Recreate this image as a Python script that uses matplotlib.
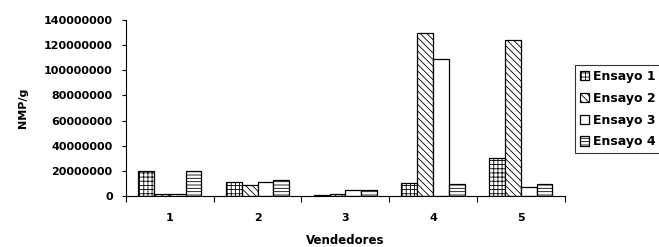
import matplotlib

matplotlib.use("Agg")
import matplotlib.pyplot as plt
import numpy as np

vendedores = ["1", "2", "3", "4", "5"]
ensayo_1 = [20000000, 11500000, 500000, 10500000, 30000000]
ensayo_2 = [2000000, 9000000, 1500000, 129500000, 124500000]
ensayo_3 = [2000000, 11000000, 5000000, 109000000, 7500000]
ensayo_4 = [20000000, 13000000, 5000000, 10000000, 10000000]
series_labels = ["Ensayo 1", "Ensayo 2", "Ensayo 3", "Ensayo 4"]
y_ticks = [0, 20000000, 40000000, 60000000, 80000000, 100000000, 120000000, 140000000]

plt.rcParams["font.family"] = "DejaVu Sans"
plt.rcParams["font.weight"] = "bold"
plt.rcParams["hatch.linewidth"] = 0.6

fig = plt.figure(figsize=(6.59, 2.47), dpi=100)
ax = fig.add_axes([0.191, 0.206, 0.666, 0.713])

x = np.arange(1, len(vendedores) + 1)
width = 0.18
hatches = ["++++", "\\\\\\\\\\", "", "-----"]
series = [ensayo_1, ensayo_2, ensayo_3, ensayo_4]

for i, (vals, label, hatch) in enumerate(zip(series, series_labels, hatches)):
    ax.bar(
        x + (i - 1.5) * width,
        vals,
        width,
        color="white",
        edgecolor="black",
        linewidth=0.9,
        hatch=hatch,
        label=label,
    )

ax.set_xlim(0.5, 5.5)
ax.set_ylim(0, 140000000)
ax.set_yticks(y_ticks)
ax.set_yticklabels([str(t) for t in y_ticks], fontsize=8, fontweight="bold")

ax.set_xticks(np.arange(0.5, 6, 1))
ax.set_xticklabels([])
ax.set_xticks(x, minor=True)
ax.set_xticklabels(vendedores, minor=True, fontsize=8, fontweight="bold")
ax.tick_params(axis="x", which="minor", length=0, pad=12)
ax.tick_params(axis="x", which="major", length=4, direction="out")
ax.tick_params(axis="y", length=3, direction="out", pad=6.5)

ax.set_xlabel("Vendedores", fontsize=8.5, fontweight="bold", labelpad=8)
ax.set_ylabel("NMP/g", fontsize=8, fontweight="bold", labelpad=11)

ax.spines["top"].set_visible(False)
ax.spines["right"].set_visible(False)

leg = ax.legend(
    loc="upper left",
    bbox_to_anchor=(1.023, 0.744),
    fontsize=9,
    frameon=True,
    fancybox=False,
    edgecolor="black",
    handlelength=0.75,
    handleheight=0.75,
    handletextpad=0.3,
    borderpad=0.4,
    borderaxespad=0,
    labelspacing=0.7,
)
leg.get_frame().set_linewidth(0.8)
for t in leg.get_texts():
    t.set_fontweight("bold")

fig.savefig("out.png", dpi=100)
